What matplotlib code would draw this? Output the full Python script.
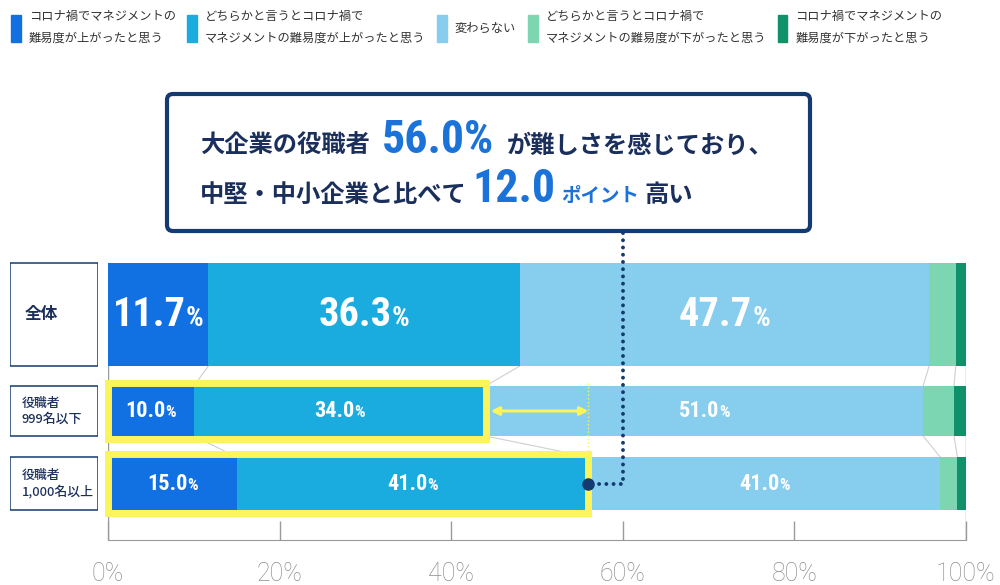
import matplotlib
matplotlib.use('Agg')
import matplotlib.pyplot as plt
import numpy as np
from matplotlib import font_manager
from matplotlib.patches import Rectangle, FancyBboxPatch, Patch
from matplotlib.offsetbox import TextArea, HPacker, AnnotationBbox

plt.rcParams['font.family'] = ['Noto Sans CJK JP', 'DejaVu Sans']

# ---- data ----
categories = ['全体', '役職者\n999名以下', '役職者\n1,000名以上']
series_names = [
    'コロナ禍でマネジメントの\n難易度が上がったと思う',
    'どちらかと言うとコロナ禍で\nマネジメントの難易度が上がったと思う',
    '変わらない',
    'どちらかと言うとコロナ禍で\nマネジメントの難易度が下がったと思う',
    'コロナ禍でマネジメントの\n難易度が下がったと思う',
]
up_strong = [11.7, 10.0, 15.0]
up_some = [36.3, 34.0, 41.0]
no_change = [47.7, 51.0, 41.0]
down_some = [3.1, 3.6, 2.0]
down_strong = [1.2, 1.4, 1.0]
tick_values = [0, 20, 40, 60, 80, 100]

# ---- style ----
colors = ['#1271e2', '#1aacde', '#87cdee', '#7bd6b1', '#0f916a']
navy = '#143a72'
text_navy = '#1b2f5c'
blue_txt = '#1b72d8'
yellow = '#fbf45a'

installed = {f.name for f in font_manager.fontManager.ttflist}
num_font = 'DejaVu Sans'
for cand in ['Liberation Sans Narrow', 'Roboto Condensed', 'Open Sans Condensed', 'Roboto']:
    if cand in installed:
        num_font = cand
        break

fig = plt.figure(figsize=(10, 5.85), dpi=100)
W, H = 1000, 585
top_px, bot_px = 250, 540
ax = fig.add_axes([108 / W, 1 - bot_px / H, 858 / W, (bot_px - top_px) / H])
ax.set_xlim(0, 100)
ax.set_ylim(bot_px, top_px)

row_y = [314.5, 411, 483.5]
row_h = [103, 50, 53]
row_top = [y - h / 2 for y, h in zip(row_y, row_h)]
row_bot = [y + h / 2 for y, h in zip(row_y, row_h)]

series = [up_strong, up_some, no_change, down_some, down_strong]
cum = np.cumsum(np.array(series), axis=0)

left = np.zeros(len(categories))
for vals, col in zip(series, colors):
    ax.barh(row_y, vals, height=row_h, left=left, color=col, zorder=2)
    left += np.array(vals)

# connector lines between rows
for i in range(len(categories) - 1):
    for k in range(len(series) - 1):
        ax.plot([cum[k][i], cum[k][i + 1]], [row_bot[i], row_top[i + 1]],
                color='#cfcfcf', lw=0.8, zorder=1)

# frame lines
ax.plot([0, 0], [row_top[0], bot_px], color='#9a9a9a', lw=1, zorder=1)
ax.plot([100, 100], [row_top[0], bot_px], color='#9a9a9a', lw=1, zorder=1)

for s in ['top', 'right', 'left']:
    ax.spines[s].set_visible(False)
ax.spines['bottom'].set_color('#9a9a9a')
ax.set_yticks([])
ax.set_xticks(tick_values)
ax.set_xticklabels([f'{v}%' for v in tick_values])
ax.tick_params(axis='x', direction='in', length=14, width=1, color='#9a9a9a',
               pad=16, labelsize=18, labelcolor='#8e8e8e')
for lab in ax.get_xticklabels():
    lab.set_family(['Roboto', 'DejaVu Sans'])
    lab.set_fontweight('light')
ax.patch.set_visible(False)


def pct_label(x, y, value, big, small):
    num = TextArea(f'{value:.1f}', textprops=dict(color='white', fontsize=big,
                                                  fontweight='bold', family=num_font))
    pc = TextArea('%', textprops=dict(color='white', fontsize=small,
                                      fontweight='bold', family=num_font))
    box = HPacker(children=[num, pc], align='baseline', pad=0, sep=0)
    ab = AnnotationBbox(box, (x, y), frameon=False, box_alignment=(0.5, 0.5),
                        pad=0, zorder=4)
    ax.add_artist(ab)


starts = np.vstack([np.zeros(len(categories)), cum[:-1]])
for i in range(len(categories)):
    big, small = (29, 20) if i == 0 else (16, 12)
    for k in range(3):
        pct_label((starts[k][i] + cum[k][i]) / 2, row_y[i], series[k][i], big, small)

# yellow highlight boxes
for i in [1, 2]:
    ax.add_patch(Rectangle((0, row_top[i] - 3.5), cum[1][i], row_h[i] + 6.5,
                           fill=False, ec=yellow, lw=5, clip_on=False, zorder=3))

# double arrow between the two highlighted totals
ax.annotate('', xy=(cum[1][2], row_y[1]), xytext=(cum[1][1] + 0.6, row_y[1]),
            arrowprops=dict(arrowstyle='<|-|>', color=yellow, lw=2.2,
                            mutation_scale=12, shrinkA=0, shrinkB=0), zorder=4)
ax.plot([cum[1][2], cum[1][2]], [row_top[1] - 3, row_top[2]], color=yellow,
        lw=1, ls=':', zorder=3)

# dotted leader from the callout
ax.plot([60, 60, cum[1][2]], [233, row_y[2], row_y[2]], color=navy, lw=2.8,
        ls=(0, (0.01, 1.85)), dash_capstyle='round', clip_on=False, zorder=5)
ax.plot([cum[1][2]], [row_y[2]], 'o', color=navy, ms=8, zorder=6, clip_on=False)

# row labels
ax_lab = fig.add_axes([10 / W, 1 - bot_px / H, 88 / W, (bot_px - top_px) / H])
ax_lab.set_xlim(0, 1)
ax_lab.set_ylim(bot_px, top_px)
ax_lab.axis('off')
for i, cat in enumerate(categories):
    ax_lab.add_patch(Rectangle((0, row_top[i]), 1, row_h[i], fill=False,
                               ec=navy, lw=1.1))
    if i == 0:
        ax_lab.text(0.17, row_y[i], cat, fontsize=12, fontweight='bold',
                    color=text_navy, va='center', ha='left')
    else:
        ax_lab.text(0.13, row_y[i], cat, fontsize=9.3, fontweight='medium',
                    color=text_navy, va='center', ha='left', linespacing=1.25)

# overlay in pixel coordinates
ov = fig.add_axes([0, 0, 1, 1])
ov.set_xlim(0, W)
ov.set_ylim(H, 0)
ov.axis('off')
ov.add_patch(FancyBboxPatch((167, 94), 643, 137,
                            boxstyle='round,pad=0,rounding_size=6',
                            lw=3, ec=navy, fc='white', zorder=2))

pct_total = up_strong[2] + up_some[2]
gap = pct_total - (up_strong[1] + up_some[1])


def ta(s, size, color, family=None):
    fam = family if family else ['Noto Sans CJK JP', 'DejaVu Sans']
    return TextArea(s, textprops=dict(fontsize=size, color=color,
                                      fontweight='bold', family=fam))


line1 = HPacker(children=[ta('大企業の役職者', 17.5, text_navy),
                          ta(f'{pct_total:.1f}%', 33, blue_txt, num_font),
                          ta('が難しさを感じており、', 17.5, text_navy)],
                align='baseline', pad=0, sep=9)
line2 = HPacker(children=[ta('中堅・中小企業と比べて', 17.5, text_navy),
                          ta(f'{gap:.1f}', 33, blue_txt, num_font),
                          ta('ポイント', 14, blue_txt),
                          ta('高い', 17.5, text_navy)],
                align='baseline', pad=0, sep=4)
for box, y in [(line1, 140), (line2, 189)]:
    ov.add_artist(AnnotationBbox(box, (200, y), frameon=False,
                                 box_alignment=(0, 0.5), pad=0, zorder=3))

# legend
handles = [Patch(color=c) for c in colors]
leg = fig.legend(handles, series_names, loc='upper left',
                 bbox_to_anchor=(11 / W, 1 - 10 / H), ncol=5, frameon=False,
                 fontsize=8.8, handlelength=0.8, handleheight=3.0,
                 handletextpad=0.65, columnspacing=0.95, borderaxespad=0,
                 borderpad=0)
for t in leg.get_texts():
    t.set_color('#333333')
    t.set_linespacing(1.85)

fig.savefig('out.png', dpi=100, facecolor='white')
